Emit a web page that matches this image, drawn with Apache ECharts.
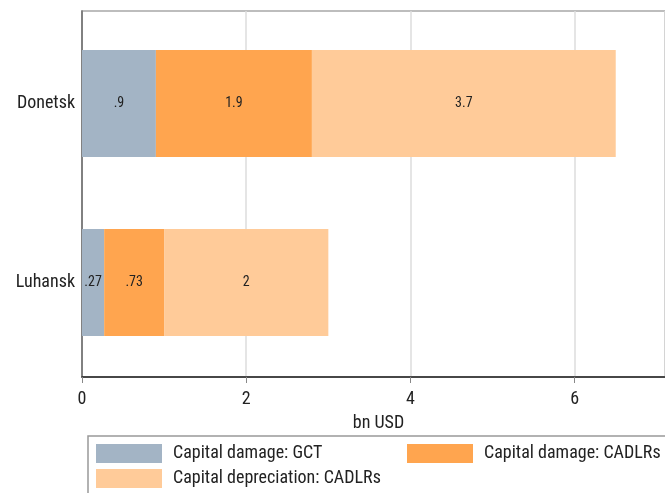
<!DOCTYPE html>
<html><head><meta charset="utf-8">
<script src="https://cdn.jsdelivr.net/npm/echarts@6/dist/echarts.min.js"></script>
<style>html,body{margin:0;padding:0;background:#fff}#c{width:665px;height:493px}</style>
</head><body><div id="c"></div>
<script>
var categories = ['Donetsk', 'Luhansk'];
var seriesNames = ['Capital damage: GCT', 'Capital damage: CADLRs', 'Capital depreciation: CADLRs'];
var gctDamage = [0.9, 0.27];
var cadlrDamage = [1.9, 0.73];
var cadlrDepreciation = [3.7, 2];
var xTicks = [0, 2, 4, 6];
var xTitle = 'bn USD';
var colors = ['#a3b4c5', '#ffa54f', '#ffcb99'];

var FONT = '"Roboto Condensed", "Liberation Sans Narrow", "Roboto", sans-serif';
function fmt(v){ return String(v).replace(/^0\./, '.'); }
var values = [gctDamage, cadlrDamage, cadlrDepreciation];

var chart = echarts.init(document.getElementById('c'));
var option = {
  animation: false,
  textStyle: { fontFamily: FONT },
  grid: [
    { left: 82, right: 0, top: 14, bottom: 121 },
    { left: 82, right: 0, top: 11, bottom: 116, show: true, borderColor: '#a8a8a8', borderWidth: 1.5, backgroundColor: 'transparent' }
  ],
  xAxis: [
    { gridIndex: 0, type: 'value', min: 0, max: 7.1, interval: 2, show: false },
    { gridIndex: 1, type: 'value', min: 0, max: 7.1, interval: 2,
      axisLine: { show: true, lineStyle: { color: '#222', width: 1.5 } },
      axisTick: { show: true, length: 6, lineStyle: { color: '#888' } },
      axisLabel: { show: true, showMaxLabel: false, fontSize: 18, color: '#222', margin: 13, fontFamily: FONT,
        formatter: function(v){ return xTicks.indexOf(v) >= 0 ? String(v) : ''; } },
      splitLine: { show: true, lineStyle: { color: '#dcdcdc', width: 1.5 } },
      name: xTitle, nameLocation: 'middle', nameGap: 37,
      nameTextStyle: { fontSize: 18, color: '#222', fontFamily: FONT, padding: [0, 0, 0, 10] }
    }
  ],
  yAxis: [
    { gridIndex: 0, type: 'category', data: categories, inverse: true,
      axisLine: { show: false }, axisTick: { show: false },
      axisLabel: { fontSize: 18, color: '#222', margin: 7, fontFamily: FONT } },
    { gridIndex: 1, type: 'value', min: 0, max: 1,
      axisLine: { show: true, lineStyle: { color: '#666', width: 1.5 } },
      axisTick: { show: false }, axisLabel: { show: false }, splitLine: { show: false } }
  ],
  legend: [0, 1, 2].map(function(i){
    var pos = [[96, 444], [407, 444], [96, 469]][i];
    return { data: [{ name: seriesNames[i], icon: 'rect' }], left: pos[0], top: pos[1], padding: 0,
      itemWidth: 66, itemHeight: 19, itemGap: 10, selectedMode: false,
      textStyle: { fontSize: 18, color: '#222', fontFamily: FONT, padding: [0, 0, 0, 6] } };
  }),
  graphic: [
    { type: 'rect', shape: { x: 88, y: 436, width: 620, height: 100 },
      style: { fill: 'none', stroke: '#999', lineWidth: 1.5 }, z: 100, silent: true }
  ],
  series: values.map(function(arr, i){
    return {
      name: seriesNames[i], type: 'bar', stack: 'total',
      xAxisIndex: 0, yAxisIndex: 0,
      data: arr, barWidth: 107,
      itemStyle: { color: colors[i] },
      label: { show: true, position: 'inside', fontSize: 14, color: '#222', fontFamily: FONT,
        formatter: function(p){ return fmt(p.value); } }
    };
  })
};
chart.setOption(option);
</script></body></html>
